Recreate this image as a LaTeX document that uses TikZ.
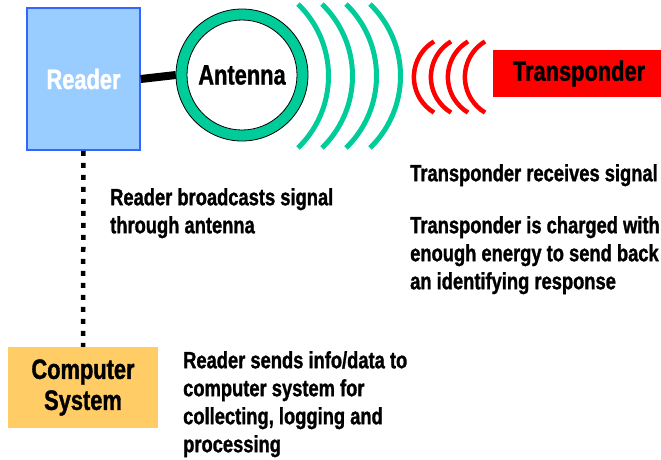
\documentclass[tikz,border=0pt]{standalone}
\usepackage{fontspec}
\setmainfont{Liberation Sans}[FakeStretch=0.78,FakeBold=1.2]
\definecolor{readerblue}{HTML}{99CCFF}
\definecolor{readeredge}{HTML}{3366FF}
\definecolor{teal}{HTML}{00CC99}
\definecolor{compfill}{HTML}{FFCC66}
\definecolor{tred}{HTML}{FF0000}
\tikzset{
  bigtext/.style={font={\fontsize{28}{31}\selectfont\bfseries}},
  smalltext/.style={font={\fontsize{23.5}{28}\selectfont\bfseries}, align=left, inner sep=0pt, anchor=north west},
  readerbox/.style={draw=readeredge, line width=1.5pt, fill=readerblue, minimum width=113pt, minimum height=142pt, inner sep=0pt, text=white, bigtext},
  compbox/.style={fill=compfill, minimum width=150pt, minimum height=81pt, inner sep=0pt, align=center, bigtext},
  transbox/.style={fill=tred, minimum width=172pt, minimum height=47pt, inner sep=0pt, bigtext},
  greenwave/.style={draw=teal, line width=5pt},
  redwave/.style={draw=tred, line width=4.5pt},
}
\begin{document}
\begin{tikzpicture}[x=1pt,y=-1pt]
\useasboundingbox (0,0) rectangle (661,459);
% Reader
\node[readerbox] (reader) at (83.5,79) {Reader};
% Antenna ring
\coordinate (ac) at (242,75);
\fill[teal] (ac) circle[radius=66pt];
\fill[white] (ac) circle[radius=55pt];
\draw[black, line width=0.8pt] (ac) circle[radius=66pt];
\draw[black, line width=0.8pt] (ac) circle[radius=55pt];
\node[circle, minimum size=132pt, inner sep=0pt, bigtext] (ant) at (ac) {Antenna};
% connector
\draw[line width=8pt] (reader.east) -- (ant.west);
% green waves
\foreach \t in {298,322,346,370}{
  \coordinate (gc) at ({\t-69.5},76);
  \draw[greenwave] (gc) ++(-46:100pt) arc[start angle=-46, end angle=46, radius=100pt];
}
% red waves
\foreach \t in {434,451,468,485}{
  \coordinate (rc) at ({\t+21.4},77);
  \draw[redwave] (rc) ++(121:41.5pt) arc[start angle=121, end angle=239, radius=41.5pt];
}
% Transponder
\node[transbox] (trans) at (579,73.5) {Transponder};
% Computer System
\node[compbox] (comp) at (83,387.5) {Computer\\System};
% dotted link
\draw[line width=4.5pt, dash pattern=on 5pt off 7pt] (reader.south) -- (comp.north);
% texts
\node[smalltext] (t1) at (110,188) {Reader broadcasts signal\\through antenna};
\node[smalltext] (t2) at (410,164) {Transponder receives signal};
\node[smalltext] (t3) at (410,216) {Transponder is charged with\\enough energy to send back\\an identifying response};
\node[smalltext] (t4) at (183,351) {Reader sends info/data to\\computer system for\\collecting, logging and\\processing};
\end{tikzpicture}
\end{document}
